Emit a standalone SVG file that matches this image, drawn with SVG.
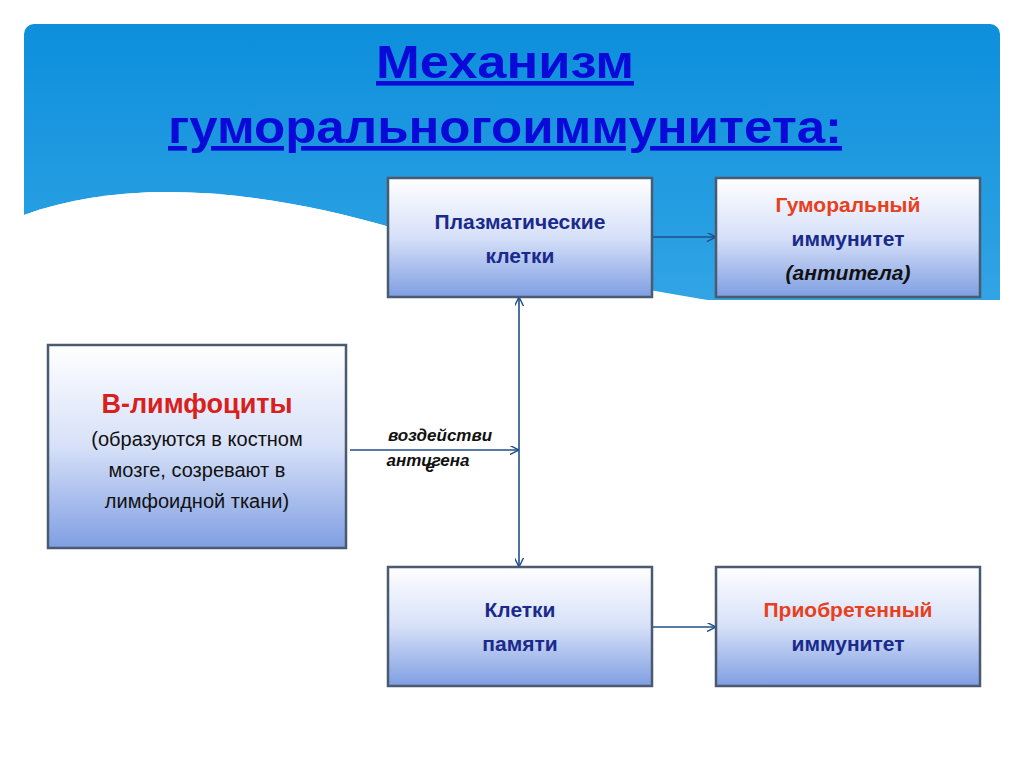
<svg xmlns="http://www.w3.org/2000/svg" width="1024" height="767" viewBox="0 0 1024 767">
<defs>
<linearGradient id="sky" x1="0" y1="0" x2="0" y2="1"><stop offset="0" stop-color="#0d8fdc"/><stop offset="1" stop-color="#6cc6f2"/></linearGradient>
<linearGradient id="box" x1="0" y1="0" x2="0" y2="1"><stop offset="0" stop-color="#ffffff"/><stop offset="0.5" stop-color="#d6e0f8"/><stop offset="1" stop-color="#7f9ee2"/></linearGradient>
<marker id="ar" viewBox="0 0 10 10" refX="10" refY="5" markerWidth="9" markerHeight="9" orient="auto-start-reverse" markerUnits="userSpaceOnUse"><path d="M0,0 L10,5 L0,10" fill="none" stroke="#1f4e8c" stroke-width="1.6"/></marker>
</defs>
<style>
.bx{fill:url(#box);stroke:#4a5a70;stroke-width:2.5}
.t{font-family:"Liberation Sans",Arial,sans-serif;font-weight:bold;text-anchor:middle}
.b{fill:#1a2a8c;font-size:21px}
.r{fill:#e8401c;font-size:21px}
.c{stroke:#1f4e8c;stroke-width:1.6;fill:none}
</style>
<rect width="1024" height="767" fill="#fff"/>
<rect x="24" y="24" width="976" height="720" rx="10" fill="url(#sky)"/>
<path d="M24,215 C120,180 250,185 400,230 C600,290 800,320 1000,330 L1000,744 L24,744 Z" fill="#fff"/>
<path d="M24,744 L1000,744 L1000,300 L24,300 Z" fill="#fff"/>
<path d="M24,215 C120,180 250,185 400,230 L400,300 L24,300 Z" fill="#fff"/>
<g id="title" class="t" fill="#0a0ad8" text-decoration="underline">
<text x="505" y="78" font-size="46" textLength="258" lengthAdjust="spacingAndGlyphs">Механизм</text>
<text x="505" y="143" font-size="46" textLength="674" lengthAdjust="spacingAndGlyphs">гуморальногоиммунитета:</text>
</g>
<g id="connectors">
<line class="c" x1="652" y1="237" x2="716" y2="237" marker-end="url(#ar)"/>
<line class="c" x1="652" y1="627" x2="716" y2="627" marker-end="url(#ar)"/>
<line class="c" x1="519" y1="297" x2="519" y2="567" marker-start="url(#ar)" marker-end="url(#ar)"/>
<line class="c" x1="350" y1="450" x2="519" y2="450" marker-end="url(#ar)"/>
<g class="t" font-style="italic" font-size="17" fill="#111">
<text x="440" y="441">воздействи</text>
<text x="428" y="466">антигена</text>
<text x="430" y="472">е</text>
</g>
</g>
<g id="plasma"><rect class="bx" x="388" y="178" width="264" height="119"/><text class="t b" x="520" y="229">Плазматические</text><text class="t b" x="520" y="263">клетки</text></g>
<g id="humoral"><rect class="bx" x="716" y="178" width="264" height="119"/><text class="t r" x="848" y="212">Гуморальный</text><text class="t b" x="848" y="246">иммунитет</text><text class="t" x="848" y="280" font-size="21" font-style="italic" fill="#111">(антитела)</text></g>
<g id="blymph"><rect class="bx" x="48" y="345" width="298" height="203"/><text class="t" x="197" y="413" font-size="27" fill="#d8201c">В-лимфоциты</text><text x="197" y="446" font-family="Liberation Sans,Arial,sans-serif" font-size="20" text-anchor="middle" fill="#111">(образуются в костном</text><text x="197" y="477" font-family="Liberation Sans,Arial,sans-serif" font-size="20" text-anchor="middle" fill="#111">мозге, созревают в</text><text x="197" y="508" font-family="Liberation Sans,Arial,sans-serif" font-size="20" text-anchor="middle" fill="#111">лимфоидной ткани)</text></g>
<g id="memory"><rect class="bx" x="388" y="567" width="264" height="119"/><text class="t b" x="520" y="617">Клетки</text><text class="t b" x="520" y="651">памяти</text></g>
<g id="acquired"><rect class="bx" x="716" y="567" width="264" height="119"/><text class="t r" x="848" y="617">Приобретенный</text><text class="t b" x="848" y="651">иммунитет</text></g>
</svg>
